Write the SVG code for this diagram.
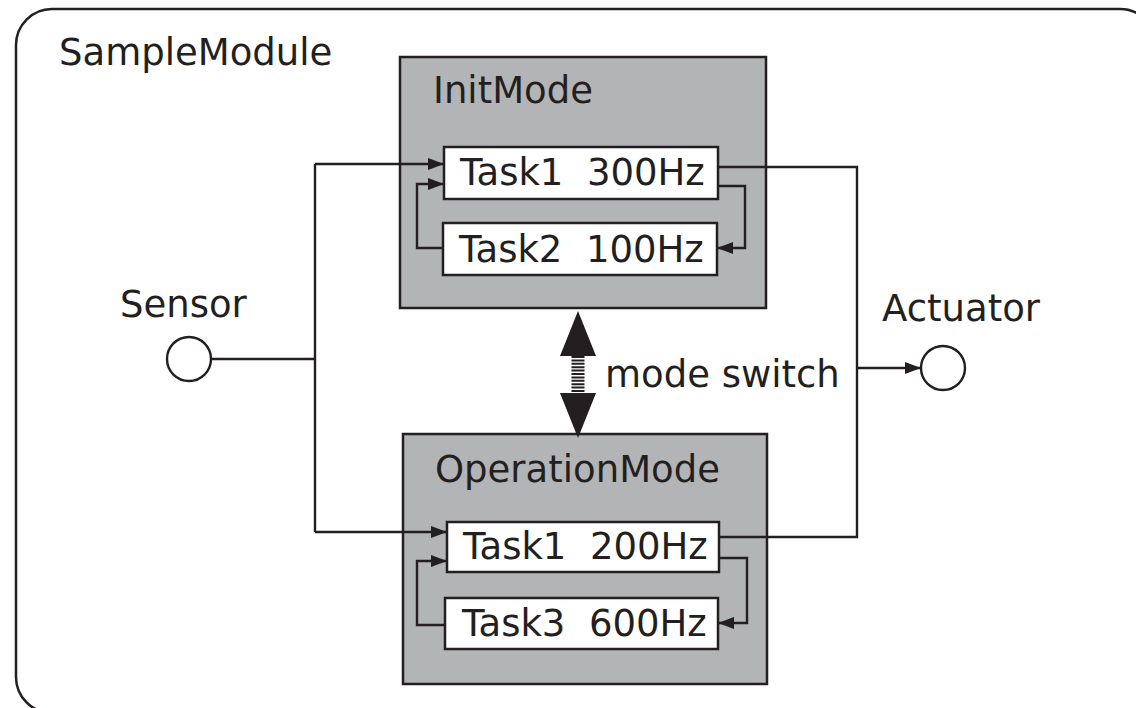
<svg xmlns="http://www.w3.org/2000/svg" width="1136" height="708" viewBox="0 0 1136 708">
<style>
text{font-family:"DejaVu Sans","Verdana",sans-serif;font-size:37px;fill:#231f20}
.mode{fill:#b3b4b6;stroke:#231f20;stroke-width:2.5}
.task{fill:#ffffff;stroke:#231f20;stroke-width:2.5}
.wire{fill:none;stroke:#231f20;stroke-width:2.4}
.port{fill:#ffffff;stroke:#231f20;stroke-width:2.4}
</style>
<defs>
<marker id="ah" markerUnits="userSpaceOnUse" markerWidth="17" markerHeight="14" refX="16" refY="7" orient="auto">
<path d="M0,1 L16,7 L0,13 Z" fill="#231f20"/>
</marker>
</defs>
<g id="SampleModule">
<rect x="16" y="9" width="1140" height="704" rx="36" ry="36" fill="#ffffff" stroke="#231f20" stroke-width="2.5"/>
<text x="59" y="65">SampleModule</text>
</g>
<g id="InitMode">
<rect class="mode" x="400" y="57" width="366" height="251"/>
<text x="433" y="103">InitMode</text>
</g>
<g id="OperationMode">
<rect class="mode" x="403" y="434" width="364" height="250"/>
<text x="435" y="482">OperationMode</text>
</g>
<g id="connectors">
<path class="wire" d="M211,359 H315"/>
<path class="wire" d="M315,164 V532"/>
<path class="wire" d="M315,164 H444" marker-end="url(#ah)"/>
<path class="wire" d="M315,532 H447" marker-end="url(#ah)"/>
<path class="wire" d="M443,248 H417 V184 H444" marker-end="url(#ah)"/>
<path class="wire" d="M718,186 H745 V248 H717" marker-end="url(#ah)"/>
<path class="wire" d="M445,625 H417 V561 H447" marker-end="url(#ah)"/>
<path class="wire" d="M719,558 H747 V623 H718" marker-end="url(#ah)"/>
<path class="wire" d="M718,167 H857 V537 H719"/>
<path class="wire" d="M857,368 H921" marker-end="url(#ah)"/>
<g id="modeSwitch">
<path d="M578,311 L596,356 L560,356 Z" fill="#231f20"/>
<line x1="578" y1="356" x2="578" y2="393" stroke="#231f20" stroke-width="13" stroke-dasharray="2 1.4"/>
<path d="M578,438 L596,393 L560,393 Z" fill="#231f20"/>
</g>
<text x="605" y="387">mode switch</text>
</g>
<g id="Task1_300Hz">
<rect class="task" x="444" y="147" width="274" height="52"/>
<text x="460" y="185" xml:space="preserve">Task1  300Hz</text>
</g>
<g id="Task2_100Hz">
<rect class="task" x="443" y="223" width="274" height="52"/>
<text x="459" y="262" xml:space="preserve">Task2  100Hz</text>
</g>
<g id="Task1_200Hz">
<rect class="task" x="447" y="522" width="272" height="50"/>
<text x="463" y="559" xml:space="preserve">Task1  200Hz</text>
</g>
<g id="Task3_600Hz">
<rect class="task" x="445" y="598" width="273" height="51"/>
<text x="462" y="636" xml:space="preserve">Task3  600Hz</text>
</g>
<g id="Sensor">
<circle class="port" cx="189" cy="359" r="22"/>
<text x="120" y="317">Sensor</text>
</g>
<g id="Actuator">
<circle class="port" cx="943" cy="368" r="22"/>
<text x="882" y="321">Actuator</text>
</g>
</svg>
